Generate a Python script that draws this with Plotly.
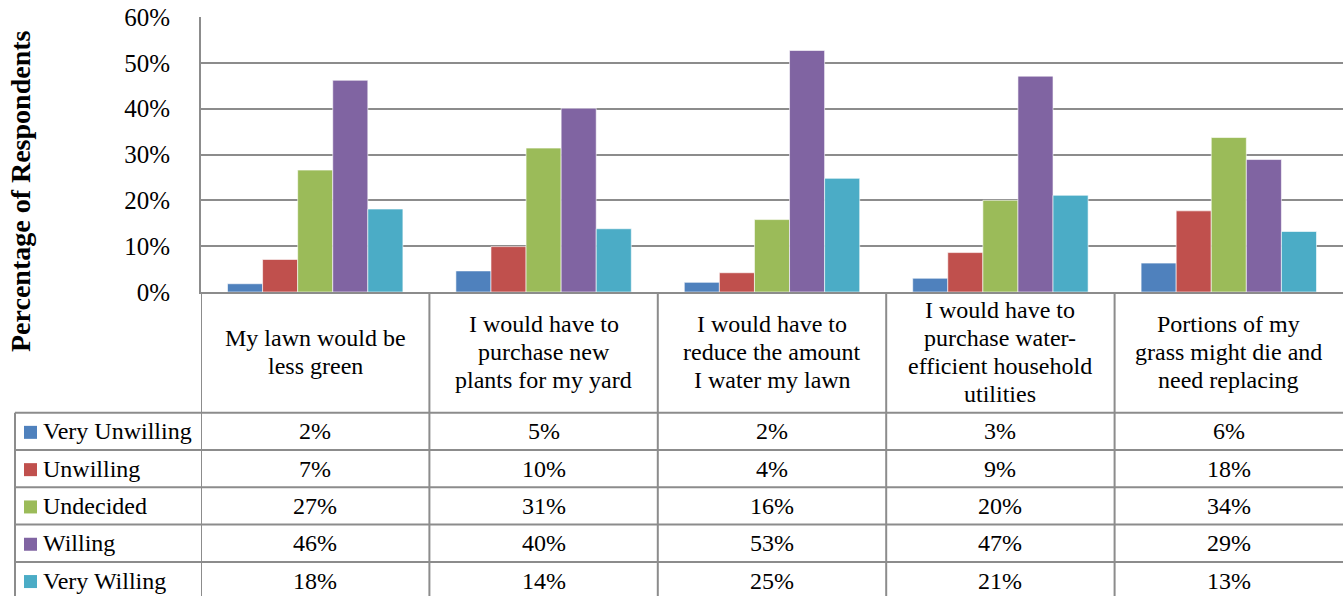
import plotly.graph_objects as go

# ---------------- data ----------------
categories = [
    "My lawn would be\nless green",
    "I would have to\npurchase new\nplants for my yard",
    "I would have to\nreduce the amount\nI water my lawn",
    "I would have to\npurchase water-\nefficient household\nutilities",
    "Portions of my\ngrass might die and\nneed replacing",
]
series_names = ["Very Unwilling", "Unwilling", "Undecided", "Willing", "Very Willing"]
very_unwilling = [1.8, 4.6, 2.1, 3.0, 6.3]
unwilling = [7.1, 9.9, 4.2, 8.6, 17.7]
undecided = [26.6, 31.4, 15.8, 20.0, 33.7]
willing = [46.2, 40.1, 52.7, 47.1, 28.9]
very_willing = [18.1, 13.8, 24.8, 21.1, 13.2]
y_tick_values = [0, 10, 20, 30, 40, 50, 60]
y_tick_labels = ["0%", "10%", "20%", "30%", "40%", "50%", "60%"]
y_title = "Percentage of Respondents"

series_values = [very_unwilling, unwilling, undecided, willing, very_willing]
colors = ["#4F81BD", "#C0504D", "#9BBB59", "#8064A2", "#4BACC6"]

# ---------------- layout constants ----------------
W, H = 1343, 596
ML, MT = 201, 17
PLOT_W = W - ML
PLOT_H = H - MT
AXIS_Y = 292            # pixel row of the bar-chart baseline
HEADER_BOT = 412.7      # bottom of header (category label) row
ROW_H = 37.3
TABLE_LEFT = 15
LINE_COL = "#8c8c8c"
FONT = "'Liberation Serif', 'Times New Roman', Times, serif"

def py(Y):
    return (H - Y) / PLOT_H

def px(X):
    return (X - ML) / PLOT_W

ydom0 = py(AXIS_Y)
xs = list(range(len(categories)))

fig = go.Figure()
for name, vals, col in zip(series_names, series_values, colors):
    fig.add_trace(go.Bar(
        x=xs, y=vals, name=name,
        marker=dict(color=col, line=dict(color="rgba(255,255,255,0.6)", width=1)),
        showlegend=False, hoverinfo="name+y",
    ))

shapes = []
annotations = []

# vertical table lines at category boundaries
for i in range(len(categories)):
    shapes.append(dict(type="line", xref="x", yref="paper",
                       x0=i - 0.5, x1=i - 0.5, y0=0, y1=ydom0,
                       line=dict(color=LINE_COL, width=2)))
# left column border
shapes.append(dict(type="line", xref="paper", yref="paper",
                   x0=px(TABLE_LEFT), x1=px(TABLE_LEFT), y0=0, y1=py(HEADER_BOT),
                   line=dict(color=LINE_COL, width=2)))
# horizontal row lines
for r in range(len(series_names)):
    Y = HEADER_BOT + r * ROW_H
    shapes.append(dict(type="line", xref="paper", yref="paper",
                       x0=px(TABLE_LEFT), x1=1, y0=py(Y), y1=py(Y),
                       line=dict(color=LINE_COL, width=2)))

# header labels (category names), one annotation per line
header_mid = (AXIS_Y + HEADER_BOT) / 2
LINE_SP = 28
for i, cat in enumerate(categories):
    lines = cat.split("\n")
    n = len(lines)
    for k, ln in enumerate(lines):
        Y = header_mid + (k - (n - 1) / 2) * LINE_SP
        annotations.append(dict(x=i, y=py(Y), xref="x", yref="paper",
                                text=ln, showarrow=False, xanchor="center", yanchor="middle",
                                font=dict(family=FONT, size=24, color="black")))

# table rows: legend key + values
for r, (name, vals, col) in enumerate(zip(series_names, series_values, colors)):
    Yc = HEADER_BOT + (r + 0.5) * ROW_H
    shapes.append(dict(type="rect", xref="paper", yref="paper",
                       x0=px(24), x1=px(37), y0=py(Yc - 6.5 + 1), y1=py(Yc + 6.5 + 1),
                       fillcolor=col, line=dict(width=0)))
    annotations.append(dict(x=px(41), y=py(Yc), xref="paper", yref="paper",
                            text=name, showarrow=False, xanchor="left", yanchor="middle",
                            font=dict(family=FONT, size=24, color="black")))
    for i, v in enumerate(vals):
        annotations.append(dict(x=i, y=py(Yc), xref="x", yref="paper",
                                text=f"{round(v)}%", showarrow=False,
                                xanchor="center", yanchor="middle",
                                font=dict(family=FONT, size=24, color="black")))

# y-axis title
annotations.append(dict(x=px(21), y=py(191), xref="paper", yref="paper",
                        text=f"<b>{y_title}</b>", textangle=-90, showarrow=False,
                        xanchor="center", yanchor="middle",
                        font=dict(family=FONT, size=28, color="black")))

fig.update_layout(
    template="none",
    width=W, height=H,
    margin=dict(l=ML, r=0, t=MT, b=0, pad=0, autoexpand=False),
    paper_bgcolor="white", plot_bgcolor="white",
    font=dict(family=FONT, color="black"),
    barmode="group", bargap=0.232, bargroupgap=0,
    shapes=shapes, annotations=annotations,
    xaxis=dict(range=[-0.5, len(categories) - 0.5], showticklabels=False,
               showgrid=False, zeroline=False, showline=True, automargin=False,
               linecolor=LINE_COL, linewidth=2, ticks=""),
    yaxis=dict(domain=[ydom0, 1], range=[0, 60], tickvals=y_tick_values,
               ticktext=y_tick_labels, showgrid=True, gridcolor=LINE_COL,
               gridwidth=2, zeroline=False, showline=True, linecolor=LINE_COL,
               linewidth=2, ticks="", ticklabelstandoff=24, automargin=False,
               tickfont=dict(family=FONT, size=25, color="black")),
)

fig.write_html("out.html")
